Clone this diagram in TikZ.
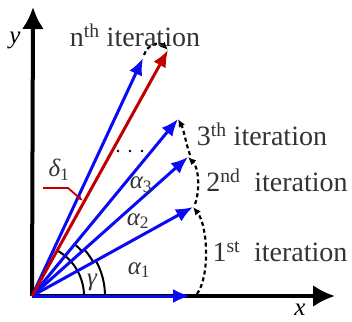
\documentclass[tikz,border=0pt]{standalone}
\usepackage{fontspec}
\setmainfont{Liberation Serif}
\usetikzlibrary{arrows.meta}
\definecolor{ink}{HTML}{333333}
\definecolor{vecblue}{HTML}{0A0AF5}
\definecolor{vecred}{HTML}{C00000}

\begin{document}
\begin{tikzpicture}[x=1pt,y=1pt,>=Latex,
    axis/.style={line width=4pt,-{Latex[length=22pt,width=22pt]}},
    vec/.style={vecblue,line width=3pt,-{Latex[length=17pt,width=14pt]}},
    hop/.style={line width=2.2pt,dash pattern=on 4pt off 3pt,
      -{Latex[length=8pt,width=7pt]}},
    iterlab/.style={text=ink,inner sep=0pt,
      font=\fontsize{28}{30}\selectfont},
    sym/.style={text=ink,inner sep=0pt,
      font=\fontsize{25}{27}\selectfont\itshape}]
  % frame of the 352x321 picture, origin at the common tail
  \useasboundingbox (-32,-25) rectangle (320,296);

  \coordinate (O) at (0,0);
  \coordinate (X) at (303,0);
  \coordinate (Y) at (1,289);
  % tips of the iterated vectors
  \coordinate (V1) at (158,0);
  \coordinate (V2) at (161,89);
  \coordinate (V3) at (156,139);
  \coordinate (V4) at (146,177);
  \coordinate (Vn) at (111,238);
  \coordinate (R) at (136,246);

  % axes
  \draw[axis] (O)--(X);
  \draw[axis] (O)--(Y);
  \node[sym,text=black] (xl) at (268,-14) {x};
  \node[sym,text=black] (yl) at (-17,256) {y};

  % angle marks
  \draw[line width=2pt] (52,0) arc[start angle=0,end angle=61,radius=52];
  \draw[line width=2pt] (73,0) arc[start angle=0,end angle=29,radius=73];
  \draw[line width=2pt] (29:70) arc[start angle=29,end angle=42,radius=70];
  \draw[line width=2pt] (42:67) arc[start angle=42,end angle=51,radius=67];

  % vectors
  \draw[vec] (O)--(V1);
  \draw[vec] (O)--(V2);
  \draw[vec] (O)--(V3);
  \draw[vec] (O)--(V4);
  \draw[vec] (O)--(Vn);
  \draw[vec,vecred] (O)--(R);

  % steps between the iterations
  \coordinate (H1) at (165,2);
  \coordinate (H2) at (163,92);
  \coordinate (H3) at (158,141);
  \coordinate (Hn) at (112,241);
  \draw[hop] (H1) .. controls (178,20) and (176,70) .. (V2);
  \draw[hop] (H2) .. controls (168,105) and (167,128) .. (V3);
  \draw[hop] (H3) .. controls (154,152) and (152,166) .. (V4);
  \draw[hop] (Hn) .. controls (116,253) and (128,254) .. (R);
  \foreach \dx in {86,98,110}
    \fill (\dx,145) circle (1.4);

  % labels
  \node[iterlab] (labn) at (103,261)
    {n\textsuperscript{th} iteration};
  \node[iterlab] (lab3) at (230,162)
    {3\textsuperscript{th} iteration};
  \node[iterlab] (lab2) at (245,116)
    {2\textsuperscript{nd}\ \ iteration};
  \node[iterlab] (lab1) at (248,44)
    {1\textsuperscript{st}\ \ iteration};

  \node[sym] (a1) at (107,26) {α\textsubscript{\upshape 1}};
  \node[sym] (a2) at (106,75) {α\textsubscript{\upshape 2}};
  \node[sym] (a3) at (109,111) {α\textsubscript{\upshape 3}};
  \node[sym] (g) at (60,14) {γ};
  \node[sym] (d1) at (27,126) {δ\textsubscript{\upshape 1}};
  \draw[vecred,line width=1.8pt,-{Latex[length=6pt,width=5pt]}]
    (11,108)--(36,108)--(51,95);
\end{tikzpicture}
\end{document}
